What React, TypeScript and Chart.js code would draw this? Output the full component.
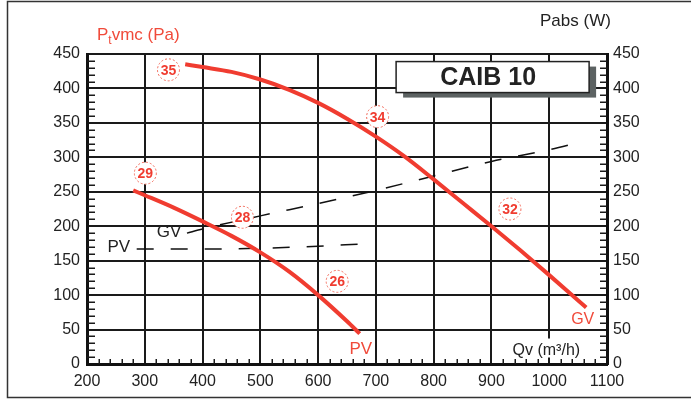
import React, { useEffect, useRef } from "react";
import { Chart, registerables } from "chart.js";

Chart.register(...registerables);

// ---- data ----
const xTickValues = [200, 300, 400, 500, 600, 700, 800, 900, 1000, 1100];
const yTickValues = [0, 50, 100, 150, 200, 250, 300, 350, 400, 450];

// GV pressure curve (Pt vmc, Pa)
const gvQ = [370, 400, 450, 500, 550, 600, 650, 700, 750, 800, 850, 900, 950, 1000, 1064];
const gvPt = [435, 431, 424, 413, 398, 379, 356, 330, 301, 268, 234, 200, 165, 129, 82];

// PV pressure curve (Pt vmc, Pa)
const pvQ = [280, 300, 350, 400, 450, 500, 550, 600, 650, 672];
const pvPt = [252, 245, 227, 207, 186, 162, 134, 100, 62, 44];

// Absorbed power (W) – GV
const gvAbsQ = [373, 400, 500, 600, 700, 800, 900, 1000, 1058];
const gvAbs = [190, 196, 215, 233, 252, 273, 294, 311, 323];

// Absorbed power (W) – PV
const pvAbsQ = [286, 400, 500, 600, 672];
const pvAbs = [167, 167, 168, 171, 174];

// circled markers: label, q, value
const markerLabels = ["35", "34", "32", "29", "28", "26"];
const markerQ = [341, 703, 932, 301, 469, 633];
const markerV = [427, 359, 225, 277, 213, 120];

const RED = "#f03c30";
const RED_TEXT = "#f04a3a";
const FONT = '"Liberation Sans", Arial, Helvetica, sans-serif';

function pts(xs: number[], ys: number[]) {
  return xs.map((x, i) => ({ x, y: ys[i] }));
}

const decorPlugin = {
  id: "decor",
  afterDraw(chart: any) {
    const { ctx, chartArea: a, scales } = chart;
    const xs = scales.x;
    const ys = scales.y;
    const y2 = scales.y2;
    ctx.save();

    // outer frame
    ctx.strokeStyle = "#333";
    ctx.lineWidth = 1.5;
    ctx.beginPath();
    ctx.moveTo(691, 1.5);
    ctx.lineTo(7.5, 1.5);
    ctx.lineTo(7.5, 397.5);
    ctx.lineTo(691, 397.5);
    ctx.stroke();

    // white box behind Qv label (covers gridline)
    ctx.fillStyle = "#fff";
    ctx.fillRect(xs.getPixelForValue(952), ys.getPixelForValue(37), 76, 19);

    // minor ticks
    ctx.strokeStyle = "#1a1a1a";
    ctx.lineWidth = 1.5;
    ctx.beginPath();
    for (let v = 10; v < 450; v += 10) {
      if (v % 50 === 0) continue;
      const py = Math.round(ys.getPixelForValue(v)) + 0.25;
      ctx.moveTo(a.left, py);
      ctx.lineTo(a.left + 8, py);
      const py2 = Math.round(y2.getPixelForValue(v)) + 0.25;
      ctx.moveTo(a.right, py2);
      ctx.lineTo(a.right - 7, py2);
    }
    for (let q = 220; q < 1100; q += 20) {
      if (q % 100 === 0) continue;
      const px = Math.round(xs.getPixelForValue(q)) + 0.25;
      ctx.moveTo(px, a.bottom);
      ctx.lineTo(px, a.bottom - 5);
    }
    ctx.stroke();

    // CAIB 10 box
    const bx = xs.getPixelForValue(735);
    const by = ys.getPixelForValue(439);
    const bw = 193;
    const bh = 31;
    ctx.fillStyle = "#5c6262";
    ctx.fillRect(bx + 7, by + 5, bw, bh);
    ctx.fillStyle = "#fff";
    ctx.fillRect(bx, by, bw, bh);
    ctx.strokeStyle = "#222";
    ctx.lineWidth = 1.5;
    ctx.strokeRect(bx, by, bw, bh);
    ctx.fillStyle = "#222";
    ctx.font = `bold 25px ${FONT}`;
    ctx.textAlign = "center";
    ctx.textBaseline = "middle";
    ctx.fillText("CAIB 10", bx + 92, by + bh / 2 + 1);

    // circled markers
    markerLabels.forEach((lab, i) => {
      const cx = xs.getPixelForValue(markerQ[i]);
      const cy = ys.getPixelForValue(markerV[i]);
      ctx.beginPath();
      ctx.arc(cx, cy, 11, 0, Math.PI * 2);
      ctx.fillStyle = "#fff";
      ctx.fill();
      ctx.setLineDash([2, 2]);
      ctx.strokeStyle = "#f26a5a";
      ctx.lineWidth = 1;
      ctx.stroke();
      ctx.setLineDash([]);
      ctx.fillStyle = RED;
      ctx.font = `bold 14px ${FONT}`;
      ctx.textAlign = "center";
      ctx.textBaseline = "middle";
      ctx.fillText(lab, cx, cy + 1);
    });

    // in-plot text labels
    const label = (t: string, q: number, v: number, color: string, size: number) => {
      ctx.fillStyle = color;
      ctx.font = `${size}px ${FONT}`;
      ctx.textAlign = "center";
      ctx.textBaseline = "middle";
      ctx.fillText(t, xs.getPixelForValue(q), ys.getPixelForValue(v));
    };
    label("PV", 674, 22, RED_TEXT, 17);
    label("GV", 1058, 65, RED_TEXT, 16);
    label("GV", 342, 191, "#222", 17);
    label("PV", 255, 170, "#222", 17);
    label("Qv (m³/h)", 995, 20, "#222", 16);

    // axis titles
    ctx.fillStyle = RED_TEXT;
    ctx.textAlign = "left";
    ctx.textBaseline = "alphabetic";
    ctx.font = `17px ${FONT}`;
    let tx = 97;
    ctx.fillText("P", tx, 40);
    tx += ctx.measureText("P").width;
    ctx.font = `12px ${FONT}`;
    ctx.fillText("t", tx, 44);
    tx += ctx.measureText("t").width;
    ctx.font = `17px ${FONT}`;
    ctx.fillText("vmc (Pa)", tx, 40);

    ctx.fillStyle = "#222";
    ctx.font = `17px ${FONT}`;
    ctx.fillText("Pabs (W)", 540, 26);

    ctx.restore();
  },
};

export default function App() {
  const ref = useRef<HTMLCanvasElement | null>(null);
  useEffect(() => {
    if (!ref.current) return;
    const tickFont = { family: FONT, size: 16 };
    const plain = (v: any) => String(v);
    const chart = new Chart(ref.current, {
      type: "line",
      data: {
        datasets: [
          {
            label: "GV Pt",
            data: pts(gvQ, gvPt),
            borderColor: RED,
            borderWidth: 4,
            pointRadius: 0,
            cubicInterpolationMode: "monotone",
            yAxisID: "y",
          },
          {
            label: "PV Pt",
            data: pts(pvQ, pvPt),
            borderColor: RED,
            borderWidth: 4,
            pointRadius: 0,
            cubicInterpolationMode: "monotone",
            yAxisID: "y",
          },
          {
            label: "GV Pabs",
            data: pts(gvAbsQ, gvAbs),
            borderColor: "#111",
            borderWidth: 1.5,
            borderDash: [17, 17],
            pointRadius: 0,
            cubicInterpolationMode: "monotone",
            yAxisID: "y2",
          },
          {
            label: "PV Pabs",
            data: pts(pvAbsQ, pvAbs),
            borderColor: "#111",
            borderWidth: 1.5,
            borderDash: [17, 17],
            pointRadius: 0,
            cubicInterpolationMode: "monotone",
            yAxisID: "y2",
          },
        ],
      },
      options: {
        responsive: false,
        animation: false,
        layout: { padding: { top: 54, left: 0, right: 0, bottom: 0 } },
        plugins: { legend: { display: false }, tooltip: { enabled: false } },
        scales: {
          x: {
            type: "linear",
            min: 200,
            max: 1100,
            afterBuildTicks: (s: any) => {
              s.ticks = xTickValues.map((v) => ({ value: v }));
            },
            afterFit: (s: any) => {
              s.height = 37;
            },
            ticks: { color: "#222", font: tickFont, padding: 8, maxRotation: 0, callback: plain },
            grid: { color: "#1a1a1a", lineWidth: 2, drawTicks: false },
            border: { color: "#111", width: 3 },
          },
          y: {
            type: "linear",
            position: "left",
            min: 0,
            max: 450,
            afterBuildTicks: (s: any) => {
              s.ticks = yTickValues.map((v) => ({ value: v }));
            },
            afterFit: (s: any) => {
              s.width = 87;
            },
            ticks: { color: "#222", font: tickFont, padding: 7, callback: plain },
            grid: { color: "#1a1a1a", lineWidth: 2, drawTicks: false },
            border: { color: "#111", width: 3 },
          },
          y2: {
            type: "linear",
            position: "right",
            min: 0,
            max: 450,
            afterBuildTicks: (s: any) => {
              s.ticks = yTickValues.map((v) => ({ value: v }));
            },
            afterFit: (s: any) => {
              s.width = 84;
            },
            ticks: { color: "#222", font: tickFont, padding: 6, callback: plain },
            grid: { drawOnChartArea: false, drawTicks: false },
            border: { color: "#111", width: 3 },
          },
        },
      },
      plugins: [decorPlugin],
    } as any);
    return () => chart.destroy();
  }, []);

  return (
    <div style={{ position: "absolute", left: 0, top: 0, width: 691, height: 401, background: "#fff" }}>
      <canvas ref={ref} width={691} height={401} style={{ width: 691, height: 401, display: "block" }} />
    </div>
  );
}
